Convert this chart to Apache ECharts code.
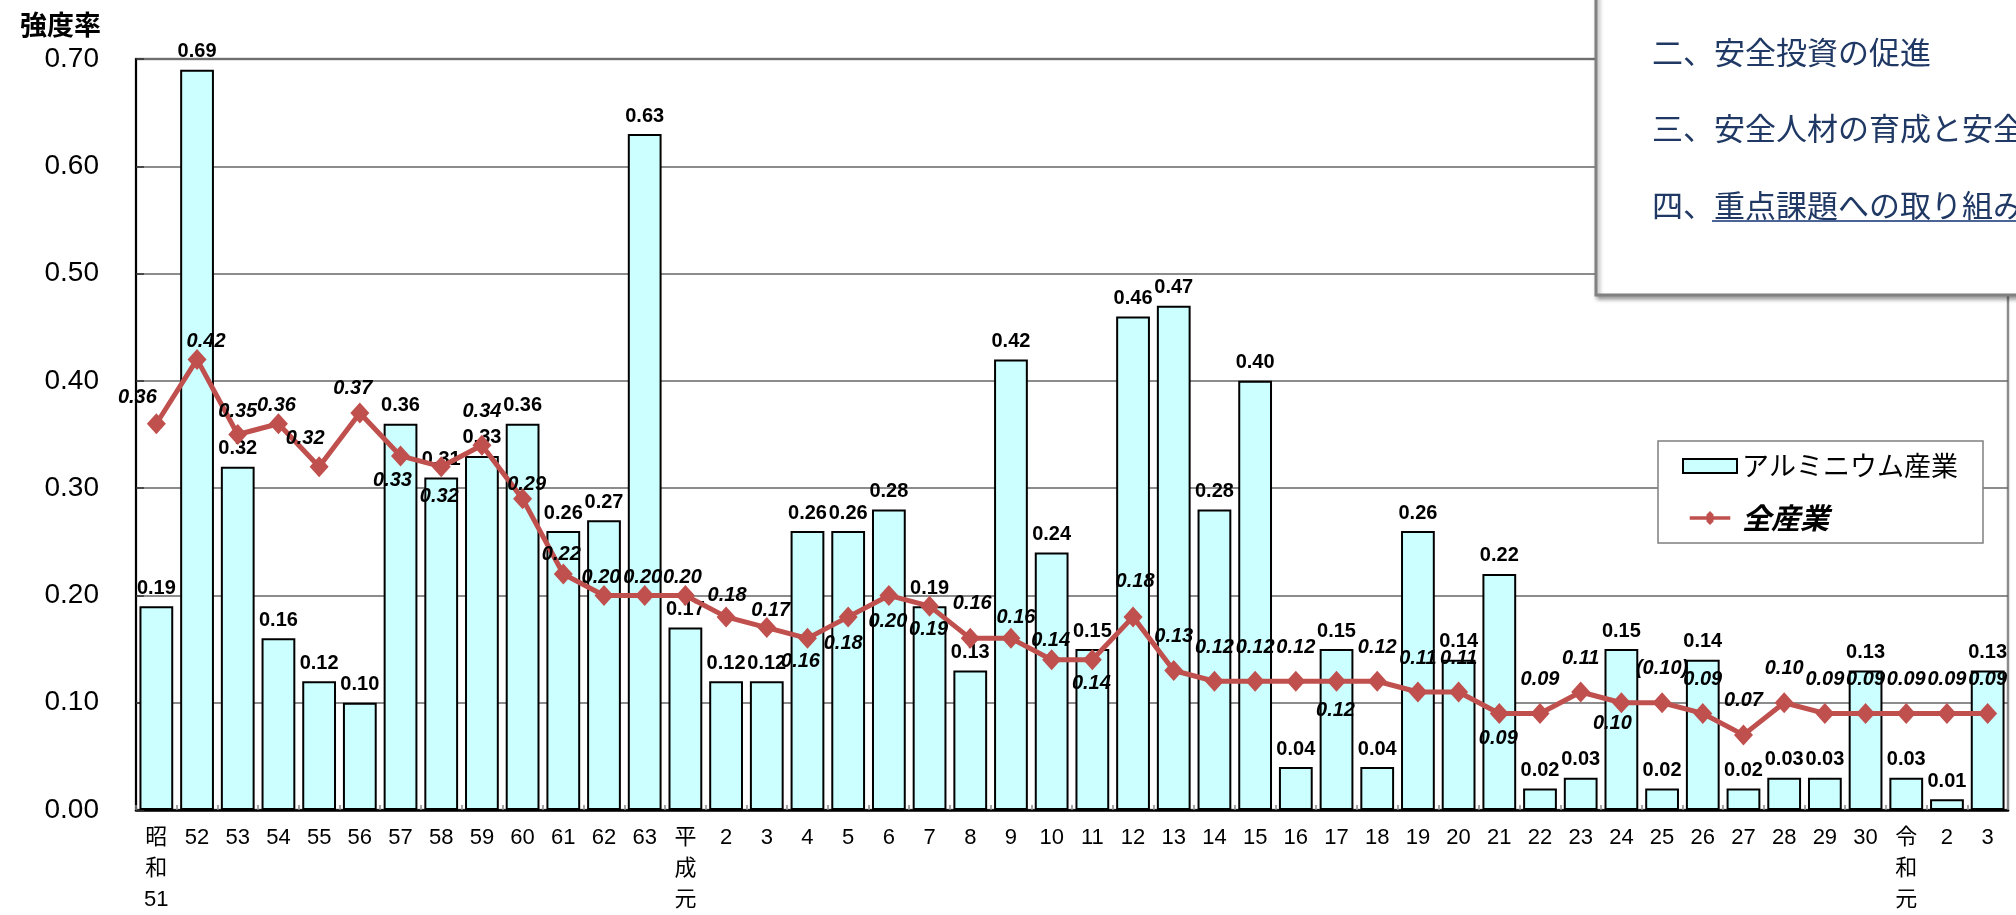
<!DOCTYPE html>
<html>
<head>
<meta charset="utf-8">
<script src="https://cdn.jsdelivr.net/npm/echarts@6/dist/echarts.min.js"></script>
<style>
html,body{margin:0;padding:0;background:#fff;}
#chart{width:2016px;height:915px;}
</style>
</head>
<body>
<div id="chart"></div>
<script>
// ---- data ----
const categories = ['昭和51','52','53','54','55','56','57','58','59','60','61','62','63',
  '平成元','2','3','4','5','6','7','8','9','10','11','12','13','14','15','16','17','18','19','20',
  '21','22','23','24','25','26','27','28','29','30','令和元','2','3'];
const aluminumValues = [0.19,0.69,0.32,0.16,0.12,0.10,0.36,0.31,0.33,0.36,0.26,0.27,0.63,
  0.17,0.12,0.12,0.26,0.26,0.28,0.19,0.13,0.42,0.24,0.15,0.46,0.47,0.28,0.40,0.04,0.15,0.04,0.26,0.14,
  0.22,0.02,0.03,0.15,0.02,0.14,0.02,0.03,0.03,0.13,0.03,0.01,0.13];
const allIndustryValues = [0.36,0.42,0.35,0.36,0.32,0.37,0.33,0.32,0.34,0.29,0.22,0.20,0.20,
  0.20,0.18,0.17,0.16,0.18,0.20,0.19,0.16,0.16,0.14,0.14,0.18,0.13,0.12,0.12,0.12,0.12,0.12,0.11,0.11,
  0.09,0.09,0.11,0.10,0.10,0.09,0.07,0.10,0.09,0.09,0.09,0.09,0.09];
const seriesNames = ['アルミニウム産業','全産業'];
const yTicks = [0,0.1,0.2,0.3,0.4,0.5,0.6,0.7];
const axisTitle = '強度率';
const noteLines = ['二、安全投資の促進','三、安全人材の育成と安全','四、重点課題への取り組み'];
const parenthesizedLineIdx = [37];

// ---- label placement (style, not data) ----
const lineLabelOffset = {
  0:[-19,-26],1:[9,-18],2:[0,-23],3:[-2,-18],4:[-14,-28],5:[-7,-25],6:[-8,25],7:[-2,30],
  8:[0,-34],9:[4,-14],10:[-2,-19],11:[-3,-18],12:[-2,-18],13:[-3,-18],14:[1,-21],15:[4,-17],
  16:[-7,23],17:[-5,27],18:[-1,26],19:[-1,23],20:[2,-35],21:[5,-21],22:[-1,-19],23:[-1,24],
  24:[2,-35],29:[-1,29],33:[-1,25],36:[-9,21]
};

const FONT = "'Liberation Sans','Noto Sans CJK JP',sans-serif";
const CJK = "'Noto Sans CJK JP',sans-serif";
const chart = echarts.init(document.getElementById('chart'));

const lineData = allIndustryValues.map((v,i)=>({
  value:v,
  label:{offset: lineLabelOffset[i] || [0,-34]}
}));

const option = {
  animation:false,
  backgroundColor:'#fff',
  title:{text:axisTitle,left:15,top:6,textStyle:{fontSize:27,fontWeight:'bold',color:'#000',fontFamily:CJK}},
  grid:{left:136,right:8,top:59,bottom:103,show:true,borderColor:'#8c8c8c',borderWidth:2.5,backgroundColor:'transparent'},
  legend:{
    orient:'vertical',left:1658,top:441,
    backgroundColor:'#fff',borderColor:'#7f7f7f',borderWidth:1.5,
    padding:[10,25,10,24],itemGap:22,itemWidth:54,itemHeight:14,
    data:[
      {name:seriesNames[0],icon:'rect',textStyle:{fontSize:27,lineHeight:30,color:'#000',fontFamily:CJK}},
      {name:seriesNames[1],icon:'path://M0,7.5 L24,7.5 L24,5 L29,0 L34,5 L34,7.5 L58,7.5 L58,12.5 L34,12.5 L34,15 L29,20 L24,15 L24,12.5 L0,12.5 Z',
        itemStyle:{color:'#C0504D',borderWidth:0},
        textStyle:{fontSize:29,lineHeight:30,fontWeight:'bold',fontStyle:'italic',color:'#000',fontFamily:CJK}}
    ],
    z:20
  },
  xAxis:{
    type:'category',data:categories,
    axisLine:{lineStyle:{color:'#000',width:2.5}},
    axisTick:{show:true,inside:true,length:5,lineStyle:{color:'#888',width:1.5}},
    axisLabel:{interval:0,fontSize:22,lineHeight:31,margin:12,color:'#000',fontFamily:FONT,
      formatter:v=>v.replace(/^(\D)(\D)(.+)$/,'$1\n$2\n$3')}
  },
  yAxis:{
    type:'value',min:yTicks[0],max:yTicks[yTicks.length-1],interval:0.1,
    axisLine:{show:true,lineStyle:{color:'#000',width:2}},
    axisTick:{show:true,inside:true,length:8,lineStyle:{color:'#333',width:1.5}},
    splitLine:{lineStyle:{color:'#666',width:1.5}},
    axisLabel:{fontSize:28,margin:37,color:'#000',fontFamily:FONT,formatter:v=>v.toFixed(2)}
  },
  series:[
    {
      name:seriesNames[0],type:'bar',data:aluminumValues,barWidth:'83%',
      itemStyle:{color:'#CCFFFF',borderColor:'#000',borderWidth:2},
      label:{show:true,position:'top',distance:8,fontSize:20,fontWeight:'bold',color:'#000',fontFamily:FONT,
        formatter:p=>p.value.toFixed(2)},
      z:2
    },
    {
      name:seriesNames[1],type:'line',data:lineData,
      lineStyle:{color:'#C0504D',width:5},
      itemStyle:{color:'#C0504D'},
      symbol:'diamond',symbolSize:[19,21],
      label:{show:true,position:'inside',fontSize:20,fontWeight:'bold',fontStyle:'italic',color:'#000',fontFamily:FONT,
        formatter:p=>parenthesizedLineIdx.includes(p.dataIndex)?'('+p.value.toFixed(2)+')':p.value.toFixed(2)},
      z:5
    }
  ],
  graphic:[
    {type:'rect',z:100,shape:{x:1596,y:-10,width:460,height:305},
      style:{fill:'#fff',stroke:'#808080',lineWidth:3,shadowBlur:4,shadowOffsetX:2,shadowOffsetY:3,shadowColor:'rgba(0,0,0,0.35)'}},
    {type:'text',z:101,x:1652,y:52,style:{text:noteLines[0],fontSize:31,fill:'#1F3864',fontFamily:CJK,verticalAlign:'middle'}},
    {type:'text',z:101,x:1652,y:128,style:{text:noteLines[1],fontSize:31,fill:'#1F3864',fontFamily:CJK,verticalAlign:'middle'}},
    {type:'text',z:101,x:1652,y:205,style:{text:noteLines[2],fontSize:31,fill:'#1F3864',fontFamily:CJK,verticalAlign:'middle'}},
    {type:'line',z:101,shape:{x1:1712,y1:221,x2:2016,y2:221},style:{stroke:'#4a6496',lineWidth:2}}
  ]
};
chart.setOption(option);
</script>
</body>
</html>
